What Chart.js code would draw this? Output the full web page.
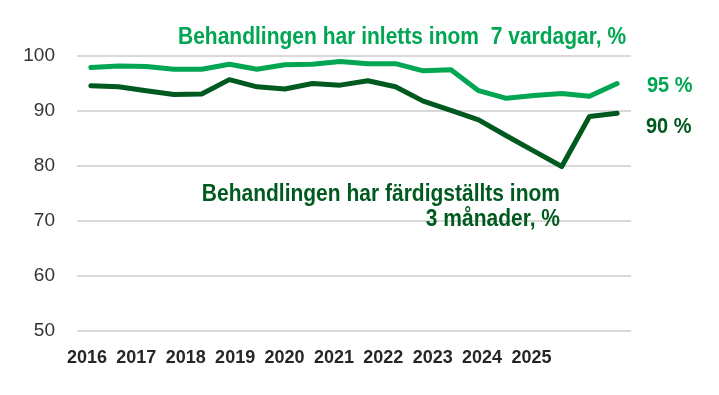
<!DOCTYPE html>
<html lang="sv">
<head>
<meta charset="utf-8">
<title>Behandlingstider</title>
<script src="https://cdn.jsdelivr.net/npm/chart.js@4/dist/chart.umd.min.js"></script>
<style>
    html, body { margin: 0; padding: 0; background: #ffffff; }
    #wrap { position: relative; width: 719px; height: 395px; }
</style>
</head>
<body>
<div id="wrap"><canvas id="chart"></canvas></div>
<script>
// Halvårsperioder, 2016 till 2025
const periods = [
    '2016:1', '2016:2', '2017:1', '2017:2', '2018:1', '2018:2', '2019:1', '2019:2',
    '2020:1', '2020:2', '2021:1', '2021:2', '2022:1', '2022:2', '2023:1', '2023:2',
    '2024:1', '2024:2', '2025:1', '2025:2'
];
const years = ['2016', '2017', '2018', '2019', '2020', '2021', '2022', '2023', '2024', '2025'];

// Andel (%) där behandlingen har inletts inom 7 vardagar
const inletts7 = [97.9, 98.2, 98.1, 97.6, 97.6, 98.5, 97.6, 98.4, 98.5, 99.0,
                  98.6, 98.6, 97.3, 97.5, 93.7, 92.3, 92.8, 93.2, 92.7, 95.0];
// Andel (%) där behandlingen har färdigställts inom 3 månader
const fardig3 = [94.6, 94.4, 93.7, 93.0, 93.1, 95.7, 94.4, 94.0, 95.0, 94.7,
                 95.5, 94.4, 91.8, 90.1, 88.4, 85.5, 82.7, 79.9, 89.0, 89.6];

const yTicks = [50, 60, 70, 80, 90, 100];

const LIGHT = '#00a651';
const DARK = '#005a1f';
const FONT = "'Liberation Sans', Arial, sans-serif";

// Årsetiketterna ligger inte exakt på punkterna i originalet
const LABEL_START = -0.14;
const LABEL_STEP = 1.783;

/**
 * Skriver text som är lite utdragen på höjden, som i originalet
 */
function tallText(ctx, text, x, y) {
    ctx.save();
    ctx.translate(x, y);
    ctx.scale(1, 1.1);
    ctx.fillText(text, 0, 0);
    ctx.restore();
}

/**
 * Ritar rubrikerna för serierna och slutvärdena
 */
const textPlugin = {
    id: 'seriesText',
    afterDraw(chart) {
        const ctx = chart.ctx;
        ctx.save();
        ctx.textBaseline = 'middle';

        ctx.font = `bold 21px ${FONT}`;
        ctx.fillStyle = LIGHT;
        ctx.textAlign = 'left';
        tallText(ctx, 'Behandlingen har inletts inom  7 vardagar, %', 178, 38);

        ctx.fillStyle = DARK;
        ctx.textAlign = 'right';
        tallText(ctx, 'Behandlingen har färdigställts inom', 560, 195);
        tallText(ctx, '3 månader, %', 560, 220);

        ctx.font = `bold 20px ${FONT}`;
        ctx.textAlign = 'left';
        ctx.fillStyle = LIGHT;
        tallText(ctx, Math.round(inletts7[inletts7.length - 1]) + ' %', 647, 86);
        ctx.fillStyle = DARK;
        tallText(ctx, Math.round(fardig3[fardig3.length - 1]) + ' %', 646, 127);
        ctx.restore();
    }
};

const ctx = document.getElementById('chart').getContext('2d');

new Chart(ctx, {
    type: 'line',
    data: {
        labels: periods,
        datasets: [{
            label: 'Inlett inom 7 vardagar',
            data: inletts7,
            borderColor: LIGHT,
            borderWidth: 5,
            order: 2
        }, {
            label: 'Färdigställt inom 3 månader',
            data: fardig3,
            borderColor: DARK,
            borderWidth: 5,
            order: 1
        }]
    },
    options: {
        responsive: true,
        maintainAspectRatio: false,
        animation: false,
        layout: {
            padding: { left: 0, right: 88, top: 56, bottom: 0 }
        },
        elements: {
            point: { radius: 0, hoverRadius: 0 },
            line: { tension: 0, fill: false, borderCapStyle: 'round', borderJoinStyle: 'round' }
        },
        plugins: {
            legend: { display: false },
            tooltip: { enabled: false }
        },
        scales: {
            x: {
                display: false,
                offset: true
            },
            years: {
                type: 'linear',
                position: 'bottom',
                min: -0.5,
                max: periods.length - 0.5,
                grid: { display: false, drawTicks: false },
                border: { display: false },
                afterBuildTicks: axis => {
                    axis.ticks = years.map((_, k) => ({ value: LABEL_START + k * LABEL_STEP }));
                },
                afterFit: axis => { axis.height = 64; },
                ticks: {
                    autoSkip: false,
                    maxRotation: 0,
                    padding: 16,
                    color: '#262626',
                    font: { family: FONT, size: 18, weight: 'bold' },
                    callback: (value, index) => years[index]
                }
            },
            y: {
                min: 50,
                max: 100,
                afterBuildTicks: axis => {
                    axis.ticks = yTicks.map(v => ({ value: v }));
                },
                afterFit: axis => { axis.width = 77; },
                grid: { color: '#d9d9d9', lineWidth: 2, drawTicks: false },
                border: { display: false },
                ticks: {
                    padding: 22,
                    color: '#333333',
                    font: { family: FONT, size: 19 }
                }
            }
        }
    },
    plugins: [textPlugin]
});
</script>
</body>
</html>
